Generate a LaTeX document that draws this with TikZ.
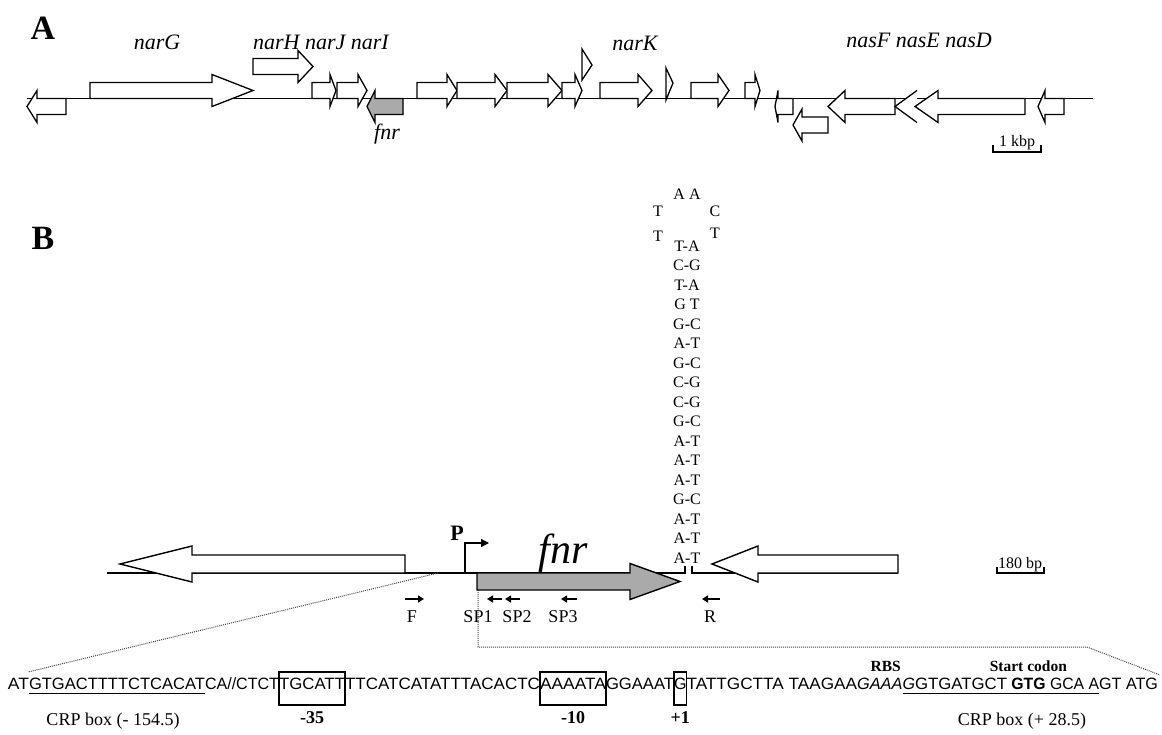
\documentclass[tikz,border=0pt]{standalone}
\usepackage{fontspec}
\usepackage{graphicx}
\setmainfont{Liberation Serif}
\newfontfamily\seqfont{Liberation Sans}
\usetikzlibrary{arrows.meta}
\definecolor{genegray}{RGB}{170,170,170}
\definecolor{dotgray}{RGB}{70,70,70}
% #2 start x, #3 head base x, #4 tip x, #5 centre y, #6 half body, #7 half head
\newcommand{\garrow}[7][]{\draw[genebox,#1] (#2,{#5-#6}) -- (#3,{#5-#6}) -- (#3,{#5-#7}) -- (#4,#5) -- (#3,{#5+#7}) -- (#3,{#5+#6}) -- (#2,{#5+#6}) -- cycle;}
\newcommand{\fitw}[2]{\resizebox{#1pt}{\height}{#2}}
\begin{document}
\begin{tikzpicture}[x=1pt,y=-1pt,
  genebox/.style={draw=black,fill=white,line width=1.3pt,line join=miter},
  dnaline/.style={draw=black,line width=1.3pt},
  glabel/.style={font=\itshape\fontsize{22}{24}\selectfont,inner sep=0pt},
  panel/.style={font=\bfseries\fontsize{34}{36}\selectfont,inner sep=0pt},
  scaletxt/.style={font=\fontsize{16}{18}\selectfont,inner sep=0pt,anchor=base},
  stemtxt/.style={font=\fontsize{16}{18}\selectfont,inner sep=0pt},
  primer/.style={line width=1.6pt,-{Triangle[length=6pt,width=7pt]}},
  primertxt/.style={font=\fontsize{18}{20}\selectfont,inner sep=0pt},
  seq/.style={font=\seqfont\fontsize{16.4}{18}\selectfont,inner sep=0pt,outer sep=0pt,anchor=base west},
  numlab/.style={font=\bfseries\fontsize{18}{20}\selectfont,inner sep=0pt},
  toplab/.style={font=\bfseries\fontsize{15.5}{17}\selectfont,inner sep=0pt},
  crplab/.style={font=\fontsize{18}{20}\selectfont,inner sep=0pt},
  dots/.style={draw=dotgray,line width=1pt,dash pattern=on 1pt off 1pt}]
\useasboundingbox (0,0) rectangle (1162,735);

% ---------------- Panel A ----------------
\node[panel] (A) at (43,28) {A};
\draw[dnaline] (27,98.5) -- (1093,98.5);
% forward genes
\garrow{90}{212}{253}{90.5}{8}{16}
\garrow{253}{298}{313}{66.5}{8}{16}
\garrow{312}{330}{336}{90.5}{8}{16}
\garrow{337}{358}{367}{90.5}{8}{16}
\garrow{417}{447}{457}{90.5}{8}{16}
\garrow{457}{495}{507}{90.5}{8}{16}
\garrow{507}{548}{562}{90.5}{8}{16}
\garrow{562}{575}{582}{90.5}{8}{16}
\draw[genebox] (582,49) -- (592,65) -- (582,80) -- cycle;
\garrow{600}{638}{652}{90.5}{8}{16}
\draw[genebox] (666,68) -- (673,83) -- (666,100) -- cycle;
\garrow{691}{718}{729}{90.5}{8}{16}
\garrow{745}{755}{760}{90.5}{8}{16}
% reverse genes
\garrow{66}{37}{27}{106.5}{8}{16}
\garrow[fill=genegray]{403}{375}{367}{106.5}{8}{16}
\garrow{793}{778}{775}{106.5}{8}{16}
\garrow{828}{802}{793}{125}{8}{16}
\garrow{895}{845}{828}{106.5}{8}{16}
\draw[genebox] (917,90.5) -- (895,106.5) -- (917,122.5);
\garrow{1025}{938}{915}{106.5}{8}{16}
\garrow{1064}{1045}{1038}{106.5}{8}{16}
% labels
\node[glabel] (narG) at (157,42) {narG};
\node[glabel] (narHJI) at (321,42) {narH narJ narI};
\node[glabel] (narK) at (635,43) {narK};
\node[glabel] (nasFED) at (919,40) {nasF nasE nasD};
\node[glabel,anchor=base] (fnrA) at (387,140) {fnr};
% scale bar
\draw[line width=1.1pt] (993,145) -- (993,152) -- (1041,152) -- (1041,145);
\node[scaletxt] (kbp) at (1017,147) {1 kbp};

% ---------------- Panel B ----------------
\node[panel] (B) at (43,238) {B};
\draw[dnaline,line width=1.4pt] (107,573) -- (685,573) -- (685,566);
\draw[dnaline,line width=1.4pt] (692,566) -- (692,573) -- (898,573);
% dotted zoom lines
\coordinate (zl0) at (438,573);
\coordinate (zl1) at (28,672);
\coordinate (zr0) at (478,590);
\coordinate (zr1) at (478,647);
\coordinate (zr2) at (1087,647);
\coordinate (zr3) at (1160,675);
\draw[dots] (zl0) -- (zl1);
\draw[dots] (zr0) -- (zr1) -- (zr2) -- (zr3);
% genes
\garrow[line width=1.4pt]{405}{192}{120}{564}{9}{18}
\garrow[line width=1.4pt]{898}{758}{712}{564}{9}{18}
\garrow[line width=1.4pt,fill=genegray]{477}{630}{680}{581.5}{8.5}{18}
\node[font=\itshape\fontsize{42}{44}\selectfont,inner sep=0pt,anchor=base] (fnrB) at (563,563) {fnr};
% promoter
\coordinate (p0) at (465,573);
\coordinate (p1) at (465,543);
\coordinate (p2) at (489,543);
\draw[line width=1.3pt,-{Triangle[length=8pt,width=8pt]}] (p0) -- (p1) -- (p2);
\node[font=\bfseries\fontsize{22}{24}\selectfont,inner sep=0pt] (P) at (457,533) {P};
% stem loop
\foreach \p [count=\i from 0] in {T-A,C-G,T-A,G T,G-C,A-T,G-C,C-G,C-G,G-C,A-T,A-T,A-T,G-C,A-T,A-T,A-T}
  \node[stemtxt] (stem\i) at (687,{246+19.5*\i}) {\p};
\node[stemtxt] (loopAA) at (687,194) {A A};
\node[stemtxt] (loopT1) at (658,211) {T};
\node[stemtxt] (loopC) at (715,211) {C};
\node[stemtxt] (loopT2) at (658,236) {T};
\node[stemtxt] (loopT3) at (715,233) {T};
% primers
\coordinate (f0) at (405,599); \coordinate (f1) at (424,599);
\coordinate (s10) at (502,599); \coordinate (s11) at (487,599);
\coordinate (s20) at (520,599); \coordinate (s21) at (505,599);
\coordinate (s30) at (577,599); \coordinate (s31) at (561,599);
\coordinate (r0) at (720,599); \coordinate (r1) at (702,599);
\draw[primer] (f0) -- (f1);
\draw[primer] (s10) -- (s11);
\draw[primer] (s20) -- (s21);
\draw[primer] (s30) -- (s31);
\draw[primer] (r0) -- (r1);
\node[primertxt] (F) at (412,617) {F};
\node[primertxt] (SP1) at (478,617) {SP1};
\node[primertxt] (SP2) at (517,617) {SP2};
\node[primertxt] (SP3) at (563,617) {SP3};
\node[primertxt] (R) at (710,617) {R};
% scale bar
\draw[line width=1.1pt] (997,567) -- (997,573) -- (1044,573) -- (1044,567);
\node[scaletxt] (bp) at (1020,568) {180 bp};

% ---------------- sequence ----------------
\node[seq] (q1) at (8,689) {\fitw{21}{AT}};
\node[seq] (q2) at (q1.base east) {\fitw{176}{GTGACTTTTCTCACAT}};
\node[seq] (q3) at (q2.base east) {\fitw{74}{CA//CTCT}};
\node[seq] (q4) at (q3.base east) {\fitw{66}{TGCATT}};
\node[seq] (q5) at (q4.base east) {\fitw{195}{TTCATCATATTTACACTC}};
\node[seq] (q6) at (q5.base east) {\fitw{66}{AAAATA}};
\node[seq] (q7) at (q6.base east) {\fitw{68}{GGAAAT}};
\node[seq] (q8) at (q7.base east) {\fitw{12.5}{G}};
\node[seq] (q9) at (q8.base east) {\fitw{170.5}{TATTGCTTA TAAGAA}};
\node[seq] (q10) at (q9.base east) {\fitw{45.5}{\itshape GAAA}};
\node[seq] (q11) at (q10.base east) {\fitw{12.5}{\itshape G}};
\node[seq] (q12) at (q11.base east) {\fitw{92}{GTGATGCT}};
\node[seq] (q13) at (q12.base east) {\fitw{38.6}{\ \textbf{GTG}}};
\node[seq] (q14) at (q13.base east) {\fitw{53.5}{\ GCA A}};
\node[seq] (q15) at (q14.base east) {\fitw{58.8}{GT ATG}};
\coordinate (ul) at (0,693);
\coordinate (bt) at (0,672);
\coordinate (bb) at (0,705);
\coordinate (labrow) at (0,718);
\coordinate (toprow) at (0,666);
\draw[line width=0.9pt] (q2.west |- ul) -- (q2.east |- ul);
\draw[line width=0.9pt] (q11.west |- ul) -- (q14.east |- ul);
\draw[line width=1.1pt] (q4.west |- bt) rectangle (q4.east |- bb);
\draw[line width=1.1pt] (q6.west |- bt) rectangle (q6.east |- bb);
\draw[line width=1.1pt] (q8.west |- bt) rectangle (q8.east |- bb);
\node[numlab] (m35) at (q4.center |- labrow) {-35};
\node[numlab] (m10) at (q6.center |- labrow) {-10};
\node[numlab] (p1lab) at (q8.center |- labrow) {+1};
\node[toplab,xshift=6pt] (RBS) at (q10.center |- toprow) {RBS};
\node[toplab,xshift=2pt] (start) at (q13.center |- toprow) {Start codon};
\node[crplab] (crp1) at (113,721) {CRP box (- 154.5)};
\node[crplab] (crp2) at (1022,721) {CRP box (+ 28.5)};
\end{tikzpicture}
\end{document}
